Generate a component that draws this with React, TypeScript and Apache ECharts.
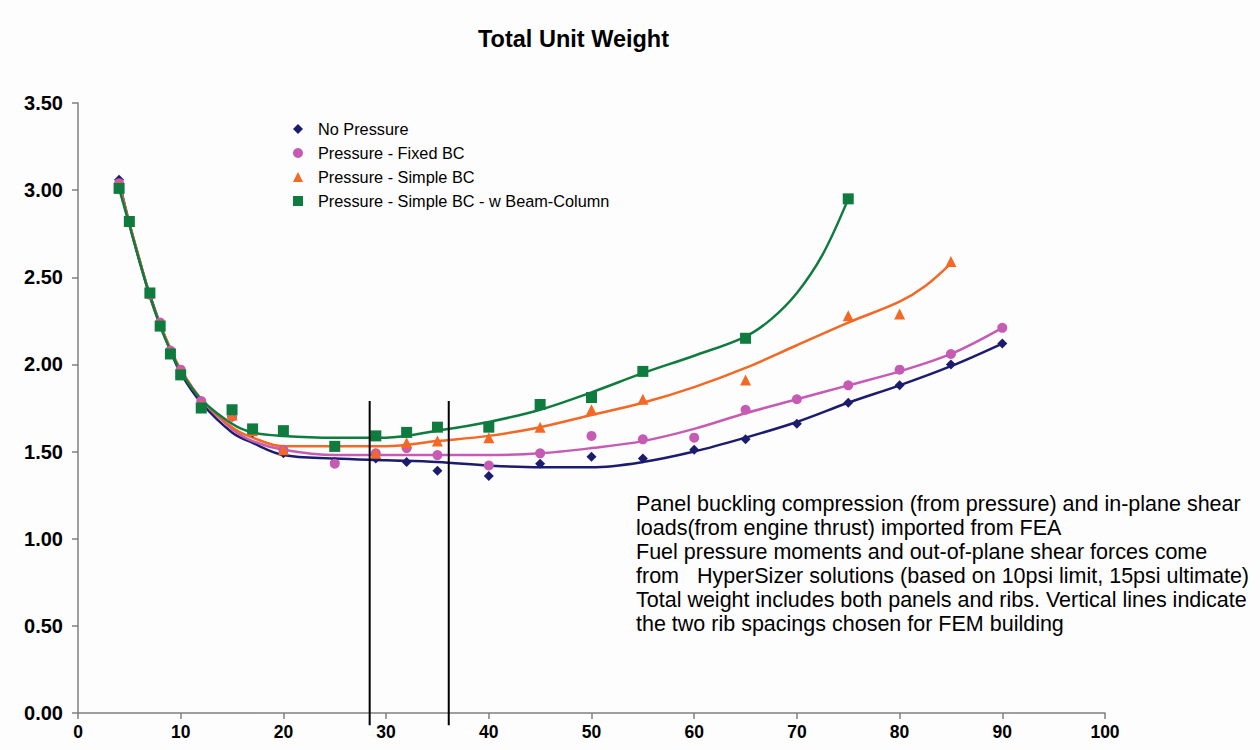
import React, { useEffect, useRef } from "react";
import * as echarts from "echarts";

const title = "Total Unit Weight";
const seriesNames = [
  "No Pressure",
  "Pressure - Fixed BC",
  "Pressure - Simple BC",
  "Pressure - Simple BC - w Beam-Column",
];
const colors = ["#1b1c6e", "#c65bb4", "#f26824", "#0f7b3e"];
const symbols = ["diamond", "circle", "triangle", "rect"];
const symbolSizes = [10, 10, 11, 11];

// measured points
const xNoPressure = [4, 5, 7, 8, 9, 10, 12, 15, 17, 20, 25, 29, 32, 35, 40, 45, 50, 55, 60, 65, 70, 75, 80, 85, 90];
const yNoPressure = [3.06, 2.82, 2.41, 2.23, 2.07, 1.96, 1.77, 1.70, 1.61, 1.49, 1.44, 1.46, 1.44, 1.39, 1.36, 1.43, 1.47, 1.46, 1.51, 1.57, 1.66, 1.78, 1.88, 2.00, 2.12];

const xFixed = [4, 5, 7, 8, 9, 10, 12, 15, 17, 20, 25, 29, 32, 35, 40, 45, 50, 55, 60, 65, 70, 75, 80, 85, 90];
const yFixed = [3.04, 2.82, 2.40, 2.24, 2.08, 1.97, 1.79, 1.70, 1.62, 1.51, 1.43, 1.49, 1.52, 1.48, 1.42, 1.49, 1.59, 1.57, 1.58, 1.74, 1.80, 1.88, 1.97, 2.06, 2.21];

const xSimple = [4, 5, 7, 8, 9, 10, 12, 15, 17, 20, 25, 29, 32, 35, 40, 45, 50, 55, 65, 75, 80, 85];
const ySimple = [3.03, 2.82, 2.41, 2.23, 2.07, 1.96, 1.77, 1.71, 1.62, 1.51, 1.53, 1.49, 1.55, 1.56, 1.58, 1.64, 1.74, 1.80, 1.91, 2.28, 2.29, 2.59];

const xBeam = [4, 5, 7, 8, 9, 10, 12, 15, 17, 20, 25, 29, 32, 35, 40, 45, 50, 55, 65, 75];
const yBeam = [3.01, 2.82, 2.41, 2.22, 2.06, 1.94, 1.75, 1.74, 1.63, 1.62, 1.53, 1.59, 1.61, 1.64, 1.64, 1.77, 1.81, 1.96, 2.15, 2.95];

// trendline readings
const xTrend = [4, 5, 6, 7, 8, 9, 10, 12, 15, 17, 20, 25, 30, 35, 40, 45, 50, 55, 60, 65, 70, 75, 80, 85, 90];
const yTrendNoPressure = [3.05, 2.81, 2.59, 2.40, 2.23, 2.08, 1.95, 1.78, 1.61, 1.55, 1.48, 1.46, 1.45, 1.44, 1.42, 1.41, 1.41, 1.44, 1.50, 1.58, 1.67, 1.78, 1.88, 1.99, 2.12];
const yTrendFixed = [3.04, 2.81, 2.60, 2.39, 2.23, 2.09, 1.97, 1.80, 1.63, 1.56, 1.51, 1.48, 1.48, 1.48, 1.48, 1.49, 1.52, 1.56, 1.63, 1.72, 1.80, 1.88, 1.96, 2.06, 2.21];
const xTrendSimple = [4, 5, 6, 7, 8, 9, 10, 12, 15, 17, 20, 25, 30, 35, 40, 45, 50, 55, 60, 65, 70, 75, 80, 82.5, 85];
const yTrendSimple = [3.03, 2.81, 2.60, 2.39, 2.23, 2.09, 1.97, 1.80, 1.64, 1.58, 1.53, 1.53, 1.53, 1.56, 1.59, 1.64, 1.71, 1.78, 1.87, 1.98, 2.11, 2.24, 2.36, 2.45, 2.58];
const xTrendBeam = [4, 5, 6, 7, 8, 9, 10, 12, 15, 17, 20, 25, 30, 35, 40, 45, 50, 55, 60, 65, 67.5, 70, 72.5, 75];
const yTrendBeam = [3.01, 2.80, 2.59, 2.39, 2.22, 2.08, 1.96, 1.80, 1.66, 1.61, 1.59, 1.58, 1.58, 1.62, 1.67, 1.74, 1.84, 1.95, 2.05, 2.16, 2.26, 2.41, 2.63, 2.95];

const ribSpacings = [28.4, 36.1];
const ribLineRange = [-0.07, 1.79];

const xTicks = { min: 0, max: 100, interval: 10 };
const yTicks = { min: 0, max: 3.5, interval: 0.5 };

const noteLines = [
  "Panel buckling compression (from pressure) and in-plane shear",
  "loads(from engine thrust) imported from FEA",
  "Fuel pressure moments and out-of-plane shear forces come",
  "from   HyperSizer solutions (based on 10psi limit, 15psi ultimate)",
  "Total weight includes both panels and ribs. Vertical lines indicate",
  "the two rib spacings chosen for FEM building",
];

const zip = (xs: number[], ys: number[]) => xs.map((x, i) => [x, ys[i]]);

export default function App() {
  const ref = useRef<HTMLDivElement>(null);
  useEffect(() => {
    if (!ref.current) return;
    const chart = echarts.init(ref.current, undefined, { renderer: "svg" });
    const font = "Liberation Sans, Arial, sans-serif";
    const pts = [
      zip(xNoPressure, yNoPressure),
      zip(xFixed, yFixed),
      zip(xSimple, ySimple),
      zip(xBeam, yBeam),
    ];
    const trends = [
      zip(xTrend, yTrendNoPressure),
      zip(xTrend, yTrendFixed),
      zip(xTrendSimple, yTrendSimple),
      zip(xTrendBeam, yTrendBeam),
    ];
    const series: any[] = [];
    trends.forEach((d, i) => {
      series.push({
        name: seriesNames[i] + " trend",
        type: "line",
        data: d,
        smooth: 0.35,
        showSymbol: false,
        symbol: "none",
        lineStyle: { color: colors[i], width: 2.5 },
        z: 2,
        silent: true,
      });
    });
    pts.forEach((d, i) => {
      series.push({
        name: seriesNames[i],
        type: "scatter",
        data: d,
        symbol: symbols[i],
        symbolSize: symbolSizes[i],
        itemStyle: { color: colors[i], opacity: 1 },
        z: 3 + i,
      });
    });
    ribSpacings.forEach((x, i) => {
      series.push({
        name: "rib" + i,
        type: "line",
        data: ribLineRange.map((y) => [x, y]),
        showSymbol: false,
        symbol: "none",
        clip: false,
        lineStyle: { color: "#000", width: 2 },
        z: 10,
        silent: true,
      });
    });
    chart.setOption({
      animation: false,
      backgroundColor: "#fdfdfd",
      title: {
        text: title,
        left: 473,
        top: 22,
        textStyle: { fontFamily: font, fontSize: 23.5, fontWeight: "bold", color: "#000" },
      },
      legend: {
        orient: "vertical",
        left: 288,
        top: 116,
        itemWidth: 10,
        itemHeight: 10,
        itemGap: 8,
        data: seriesNames.map((n, i) => ({ name: n, icon: symbols[i] })),
        textStyle: { fontFamily: font, fontSize: 16.3, color: "#000", lineHeight: 16, padding: [0, 0, 0, 10] },
      },
      grid: { left: 78, right: 155, top: 103, bottom: 37, containLabel: false },
      xAxis: {
        type: "value",
        ...xTicks,
        axisLine: { lineStyle: { color: "#7f7f7f", width: 1.5 } },
        axisTick: { show: true, length: 6, lineStyle: { color: "#7f7f7f", width: 1.5 } },
        splitLine: { show: false },
        axisLabel: { fontFamily: font, fontSize: 17.5, fontWeight: "bold", color: "#000", margin: 10 },
      },
      yAxis: {
        type: "value",
        ...yTicks,
        axisLine: { show: true, lineStyle: { color: "#7f7f7f", width: 1.5 } },
        axisTick: { show: true, length: 6, lineStyle: { color: "#7f7f7f", width: 1.5 } },
        splitLine: { show: false },
        axisLabel: {
          fontFamily: font,
          fontSize: 20,
          fontWeight: "bold",
          color: "#000",
          margin: 15,
          formatter: (v: number) => v.toFixed(2),
        },
      },
      graphic: [
        {
          type: "text",
          left: 636,
          top: 492,
          style: {
            text: noteLines.join("\n"),
            fontFamily: font,
            fontSize: 21.5,
            lineHeight: 24,
            fill: "#000",
          },
        },
      ],
      series,
    });
    return () => chart.dispose();
  }, []);
  return (
    <div
      ref={ref}
      style={{ position: "fixed", left: 0, top: 0, width: 1260, height: 750 }}
    />
  );
}
